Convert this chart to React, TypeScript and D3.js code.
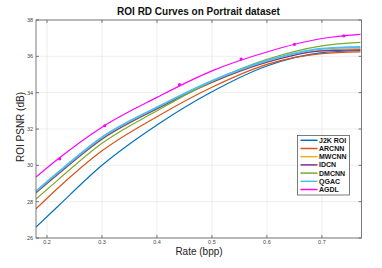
import * as d3 from "d3";

const rates = [0.18, 0.22, 0.3, 0.4, 0.5, 0.6, 0.7, 0.77];
const j2k = [26.6, 27.75, 30.0, 32.22, 34.05, 35.47, 36.2, 36.32];
const arcnn = [27.6, 28.75, 30.8, 32.68, 34.3, 35.56, 36.15, 36.25];
const mwcnn = [28.48, 29.5, 31.42, 33.1, 34.55, 35.68, 36.33, 36.42];
const idcn = [28.5, 29.52, 31.45, 33.12, 34.58, 35.68, 36.3, 36.36];
const dmcnn = [28.15, 29.2, 31.21, 33.0, 34.62, 35.83, 36.58, 36.77];
const qgac = [28.57, 29.6, 31.54, 33.19, 34.65, 35.76, 36.42, 36.52];
const agdl = [29.36, 30.35, 32.1, 33.74, 35.2, 36.24, 36.98, 37.21];

const agdlMarkRates = [0.223, 0.305, 0.441, 0.553, 0.65, 0.74];
const agdlMarkPsnr = [30.36, 32.18, 34.44, 35.85, 36.66, 37.13];

const xTicks = [0.2, 0.3, 0.4, 0.5, 0.6, 0.7];
const yTicks = [26, 28, 30, 32, 34, 36, 38];

const series = [
  { name: "J2K ROI", values: j2k, color: "#0072BD", width: 1.2 },
  { name: "ARCNN", values: arcnn, color: "#D95319", width: 1.2 },
  { name: "MWCNN", values: mwcnn, color: "#EDB120", width: 1.2 },
  { name: "IDCN", values: idcn, color: "#7E2F8E", width: 1.2 },
  { name: "DMCNN", values: dmcnn, color: "#77AC30", width: 1.2 },
  { name: "QGAC", values: qgac, color: "#4DBEEE", width: 2 },
  { name: "AGDL", values: agdl, color: "#FF00FF", width: 1.2 },
];

const width = 382;
const height = 268;
const left = 36;
const right = 361.5;
const top = 20;
const bottom = 238;

export default function App() {
  const x = d3.scaleLinear().domain([0.18, 0.772]).range([left, right]);
  const y = d3.scaleLinear().domain([26, 38]).range([bottom, top]);

  const line = d3
    .line<number>()
    .x((_, i) => x(rates[i]))
    .y((d) => y(d))
    .curve(d3.curveMonotoneX);

  const font = "'Liberation Sans', Arial, sans-serif";
  const legX = 297.5;
  const legY = 135.5;
  const rowH = 8.2;

  return (
    <svg
      width={width}
      height={height}
      style={{ position: "absolute", left: 0, top: 0, fontFamily: font }}
    >
      <rect x={0} y={0} width={width} height={height} fill="#fff" />
      <defs>
        <clipPath id="plot">
          <rect x={left} y={top} width={right - left} height={bottom - top} />
        </clipPath>
      </defs>
      {/* grid */}
      {xTicks.map((t) => (
        <line key={"gx" + t} x1={x(t)} x2={x(t)} y1={top} y2={bottom} stroke="#e3e3e3" strokeWidth={0.6} />
      ))}
      {yTicks.map((t) => (
        <line key={"gy" + t} x1={left} x2={right} y1={y(t)} y2={y(t)} stroke="#e3e3e3" strokeWidth={0.6} />
      ))}

      <g clipPath="url(#plot)">
        {series.map((s) => (
          <path
            key={s.name}
            d={line(s.values) || ""}
            fill="none"
            stroke={s.color}
            strokeWidth={s.width}
          />
        ))}
        {agdlMarkRates.map((r, i) => (
          <circle key={"m" + r} cx={x(r)} cy={y(agdlMarkPsnr[i])} r={1.6} fill="#FF00FF" />
        ))}
      </g>

      {/* box & ticks */}
      <rect x={left} y={top} width={right - left} height={bottom - top} fill="none" stroke="#5a5a5a" strokeWidth={0.8} />
      {xTicks.map((t) => (
        <g key={"tx" + t}>
          <line x1={x(t)} x2={x(t)} y1={bottom} y2={bottom - 3} stroke="#5a5a5a" strokeWidth={0.8} />
          <line x1={x(t)} x2={x(t)} y1={top} y2={top + 3} stroke="#5a5a5a" strokeWidth={0.8} />
          <text x={x(t)} y={244} fontSize={5.5} fill="#444" textAnchor="middle">
            {t.toFixed(1)}
          </text>
        </g>
      ))}
      {yTicks.map((t) => (
        <g key={"ty" + t}>
          <line x1={left} x2={left + 3} y1={y(t)} y2={y(t)} stroke="#5a5a5a" strokeWidth={0.8} />
          <line x1={right} x2={right - 3} y1={y(t)} y2={y(t)} stroke="#5a5a5a" strokeWidth={0.8} />
          <text x={33} y={y(t) + 2} fontSize={5.5} fill="#444" textAnchor="end">
            {t}
          </text>
        </g>
      ))}

      <text x={198.5} y={15} fontSize={10} fontWeight="bold" textAnchor="middle" fill="#111">
        ROI RD Curves on Portrait dataset
      </text>
      <text x={199} y={255} fontSize={10} textAnchor="middle" fill="#222">
        Rate (bpp)
      </text>
      <text
        transform={`translate(23.5,${(top + bottom) / 2 - 2}) rotate(-90)`}
        fontSize={10}
        textAnchor="middle"
        fill="#222"
      >
        ROI PSNR (dB)
      </text>

      {/* legend */}
      <rect x={legX} y={legY} width={52} height={59.5} fill="#fff" stroke="#444" strokeWidth={0.7} />
      {series.map((s, i) => {
        const cy = legY + 4.8 + i * rowH;
        return (
          <g key={"l" + s.name}>
            <line x1={legX + 3} x2={legX + 20} y1={cy} y2={cy} stroke={s.color} strokeWidth={1.5} />
            <text x={legX + 21.5} y={cy + 2.5} fontSize={7} fontWeight="bold" fill="#111">
              {s.name}
            </text>
          </g>
        );
      })}
    </svg>
  );
}
